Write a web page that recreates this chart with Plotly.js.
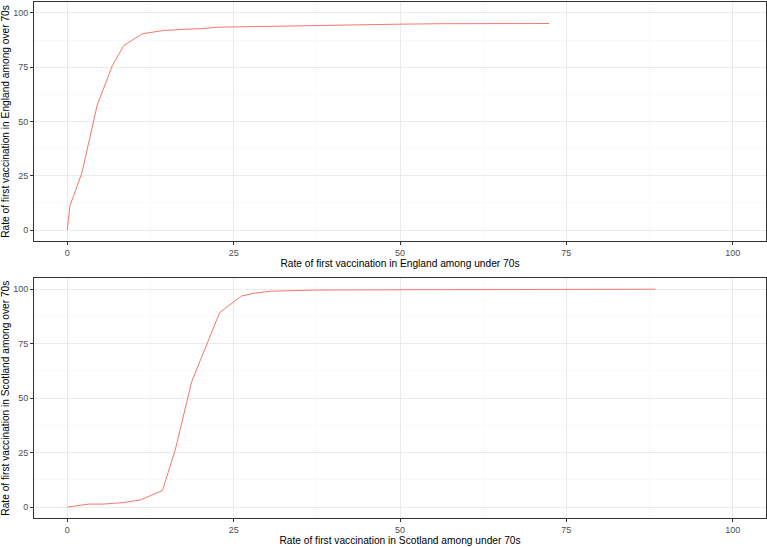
<!DOCTYPE html>
<html>
<head>
<meta charset="utf-8">
<script src="https://cdn.plot.ly/plotly-3.0.1.min.js"></script>
<style>
html,body{margin:0;padding:0;background:#fff}
#plot{width:767px;height:547px}
</style>
</head>
<body>
<div id="plot"></div>
<script>
// England: rate among under 70s (x) vs over 70s (y)
const engUnder = [0, 0.4, 2.2, 4.5, 6.8, 8.5, 11.3, 14.5, 18, 20, 22.5, 27.7, 31.3, 35, 40.6, 44.1, 50, 55.9, 63, 72.4]
const engOver  = [0, 11.1, 26.4, 57.6, 75.9, 85, 90.4, 91.9, 92.5, 92.7, 93.4, 93.7, 94.0, 94.2, 94.5, 94.6, 94.8, 95.0, 95.0, 95.1]

// Scotland
const scoUnder = [0, 3.3, 5.5, 8.5, 11, 14.3, 16.2, 18.7, 22.9, 26.2, 28.2, 30.7, 33.1, 37.3, 45, 54.2, 70, 88.4]
const scoOver  = [0, 1.4, 1.4, 2.1, 3.3, 7.6, 26, 57.6, 89.3, 96.9, 98.2, 99.1, 99.3, 99.6, 99.7, 99.8, 100, 100]

const lineColor = "#F8766D"
const gridMajor = "#EBEBEB"
const gridMinor = "#F4F4F4"

const trace1 = {
x:engUnder, y:engOver,
type:"scatter", mode:"lines",
line:{color:lineColor, width:1},
xaxis:"x", yaxis:"y",
hoverinfo:"x+y"
}

const trace2 = {
x:scoUnder, y:scoOver,
type:"scatter", mode:"lines",
line:{color:lineColor, width:1},
xaxis:"x2", yaxis:"y2",
hoverinfo:"x+y"
}

function xAxis(title, domainAnchor){
return {
range:[-5,105],
tickvals:[0,25,50,75,100],
ticks:"outside", ticklen:3, tickcolor:"#333333",
tickfont:{size:9, color:"#4D4D4D"},
showgrid:true, gridcolor:gridMajor, gridwidth:1,
minor:{dtick:12.5, tick0:0, showgrid:true, gridcolor:gridMinor, gridwidth:0.5},
zeroline:false,
showline:true, mirror:true, linecolor:"#333333", linewidth:1,
anchor:domainAnchor,
title:{text:title, font:{size:10.2, color:"#000"}, standoff:3}
}
}

function yAxis(title, dom, anchor){
return {
domain:dom,
range:[-5,105],
tickvals:[0,25,50,75,100],
ticks:"outside", ticklen:3, tickcolor:"#333333",
tickfont:{size:9, color:"#4D4D4D"},
showgrid:true, gridcolor:gridMajor, gridwidth:1,
minor:{dtick:12.5, tick0:0, showgrid:true, gridcolor:gridMinor, gridwidth:0.5},
zeroline:false,
showline:true, mirror:true, linecolor:"#333333", linewidth:1,
anchor:anchor,
title:{text:title, font:{size:10.2, color:"#000"}, standoff:2}
}
}

Plotly.newPlot(
"plot",
[trace1, trace2],
{
width:767, height:547,
margin:{l:34, r:1, t:2, b:29},
paper_bgcolor:"#fff", plot_bgcolor:"#fff",
font:{family:"Liberation Sans, Arial, sans-serif"},
showlegend:false,
xaxis:xAxis("Rate of first vaccination in England among under 70s", "y"),
yaxis:yAxis("Rate of first vaccination in England among over 70s", [0.5368, 1], "x"),
xaxis2:xAxis("Rate of first vaccination in Scotland among under 70s", "y2"),
yaxis2:yAxis("Rate of first vaccination in Scotland among over 70s", [0, 0.4645], "x2")
},
{displayModeBar:false, staticPlot:true}
)
</script>
</body>
</html>
